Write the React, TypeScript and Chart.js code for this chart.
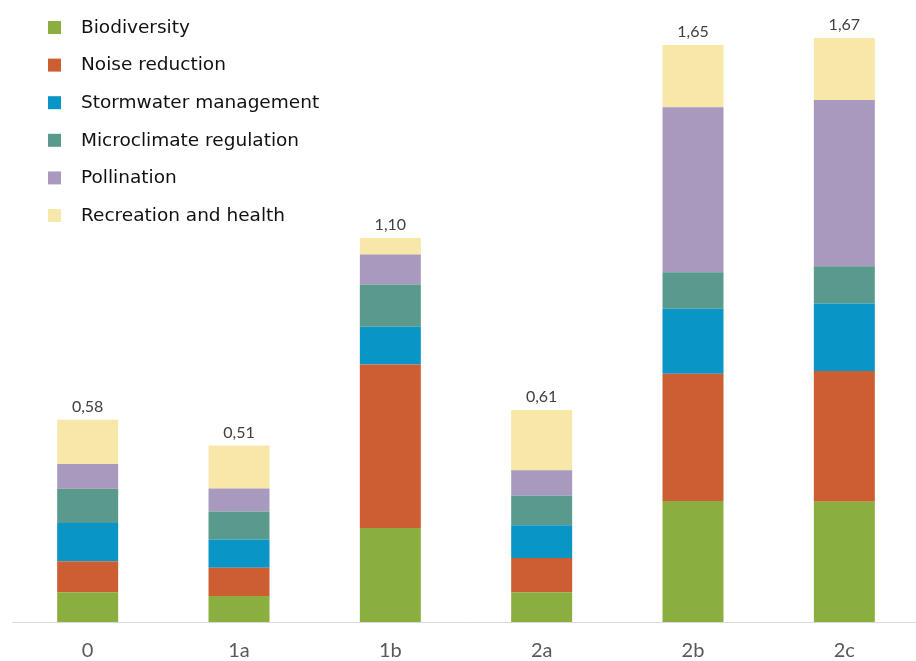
import React, { useEffect, useRef } from "react";
import { Chart, registerables } from "chart.js";

Chart.register(...registerables);

const categories = ["0", "1a", "1b", "2a", "2b", "2c"];
const biodiversity = [0.085, 0.074, 0.269, 0.085, 0.346, 0.344];
const noiseReduction = [0.089, 0.081, 0.467, 0.098, 0.364, 0.374];
const stormwater = [0.109, 0.081, 0.108, 0.094, 0.186, 0.193];
const microclimate = [0.098, 0.080, 0.121, 0.084, 0.104, 0.106];
const pollination = [0.071, 0.066, 0.086, 0.073, 0.472, 0.476];
const recreation = [0.126, 0.123, 0.047, 0.172, 0.178, 0.177];
const totalLabels = ["0,58", "0,51", "1,10", "0,61", "1,65", "1,67"];

const seriesNames = [
  "Biodiversity",
  "Noise reduction",
  "Stormwater management",
  "Microclimate regulation",
  "Pollination",
  "Recreation and health",
];
const seriesColors = ["#8AAF3E", "#CD5E31", "#0995C6", "#5A9A8C", "#A79ABE", "#F7E7A9"];

const totalsPlugin = {
  id: "totals",
  afterDatasetsDraw(chart: any) {
    const ctx = chart.ctx;
    const last = chart.data.datasets.length - 1;
    const meta = chart.getDatasetMeta(last);
    ctx.save();
    ctx.font = "16px Lato";
    ctx.fillStyle = "#404040";
    ctx.textAlign = "center";
    ctx.textBaseline = "middle";
    meta.data.forEach((el: any, i: number) => {
      ctx.fillText(totalLabels[i], el.x, el.y - 13);
    });
    ctx.restore();
  },
};

const legendPlugin = {
  id: "customLegend",
  afterDraw(chart: any) {
    const ctx = chart.ctx;
    ctx.save();
    ctx.font = "18.5px 'DejaVu Sans', sans-serif";
    ctx.textBaseline = "middle";
    ctx.textAlign = "left";
    chart.data.datasets.forEach((ds: any, i: number) => {
      const cy = 27.5 + i * 37.6;
      ctx.fillStyle = ds.backgroundColor;
      ctx.fillRect(48, cy - 6.5, 13, 13);
      ctx.fillStyle = "#111111";
      ctx.fillText(ds.label, 81, cy + 0.5);
    });
    ctx.restore();
  },
};

export default function App() {
  const ref = useRef<HTMLCanvasElement>(null);
  useEffect(() => {
    const values = [biodiversity, noiseReduction, stormwater, microclimate, pollination, recreation];
    const chart = new Chart(ref.current as HTMLCanvasElement, {
      type: "bar",
      data: {
        labels: categories,
        datasets: values.map((v, i) => ({
          label: seriesNames[i],
          data: v,
          backgroundColor: seriesColors[i],
          borderWidth: 0,
          barPercentage: 0.403,
          categoryPercentage: 1,
        })),
      },
      options: {
        responsive: false,
        maintainAspectRatio: false,
        animation: false,
        devicePixelRatio: 1,
        layout: { padding: { left: 12, right: 0, top: 10, bottom: 0 } },
        plugins: {
          legend: { display: false },
          tooltip: { enabled: false },
        },
        scales: {
          x: {
            stacked: true,
            grid: { display: false, drawTicks: false, tickLength: 0 },
            border: { display: true, color: "#D9D9D9", width: 1 },
            ticks: {
              padding: 17,
              color: "#595959",
              font: { family: "Lato", size: 20 },
            },
          },
          y: {
            stacked: true,
            display: false,
            min: 0,
            max: 1.75,
          },
        },
      },
      plugins: [totalsPlugin, legendPlugin],
    });
    return () => chart.destroy();
  }, []);
  return (
    <div
      style={{
        position: "fixed",
        left: 0,
        top: 0,
        width: 916,
        height: 661,
        overflow: "hidden",
        background: "#ffffff",
      }}
    >
      <canvas ref={ref} width={920} height={680} style={{ display: "block" }} />
    </div>
  );
}
